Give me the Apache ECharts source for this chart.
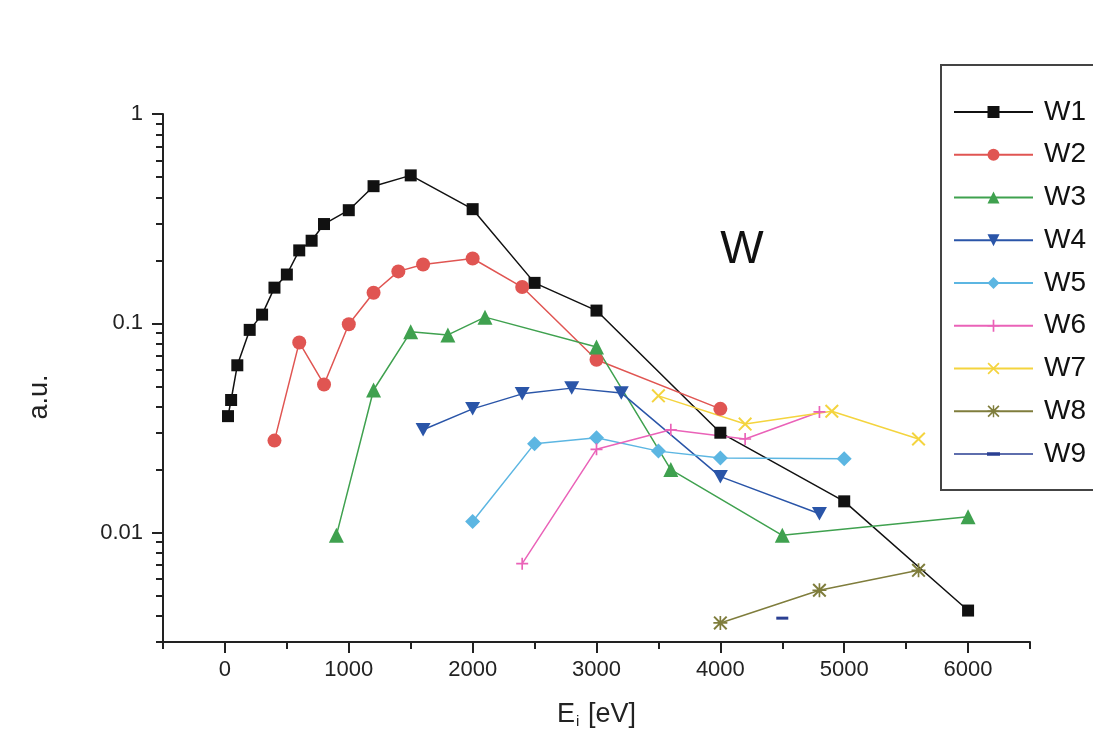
<!DOCTYPE html>
<html>
<head>
<meta charset="utf-8">
<script src="https://cdn.jsdelivr.net/npm/echarts@6/dist/echarts.min.js"></script>
<style>
  html, body { margin: 0; padding: 0; background: #fff; }
  #chart { width: 1093px; height: 740px; }
</style>
</head>
<body>
<div id="chart"></div>
<script>
// values
const energyW1 = [25, 50, 100, 200, 300, 400, 500, 600, 700, 800, 1000, 1200, 1500, 2000, 2500, 3000, 4000, 5000, 6000];
const valueW1 = [0.036, 0.043, 0.063, 0.093, 0.11, 0.148, 0.171, 0.223, 0.248, 0.298, 0.347, 0.452, 0.509, 0.351, 0.156, 0.115, 0.030, 0.0141, 0.00424];
const energyW2 = [400, 600, 800, 1000, 1200, 1400, 1600, 2000, 2400, 3000, 4000];
const valueW2 = [0.0275, 0.081, 0.051, 0.099, 0.14, 0.177, 0.191, 0.204, 0.149, 0.067, 0.039];
const energyW3 = [900, 1200, 1500, 1800, 2100, 3000, 3600, 4500, 6000];
const valueW3 = [0.0097, 0.048, 0.091, 0.088, 0.107, 0.077, 0.020, 0.0097, 0.0119];
const energyW4 = [1600, 2000, 2400, 2800, 3200, 4000, 4800];
const valueW4 = [0.031, 0.039, 0.046, 0.049, 0.0465, 0.0185, 0.0123];
const energyW5 = [2000, 2500, 3000, 3500, 4000, 5000];
const valueW5 = [0.0113, 0.0266, 0.0284, 0.0245, 0.0227, 0.0225];
const energyW6 = [2400, 3000, 3600, 4200, 4800];
const valueW6 = [0.0071, 0.025, 0.031, 0.028, 0.0377];
const energyW7 = [3500, 4200, 4900, 5600];
const valueW7 = [0.045, 0.033, 0.038, 0.028];
const energyW8 = [4000, 4800, 5600];
const valueW8 = [0.0037, 0.0053, 0.0066];
const energyW9 = [4500];
const valueW9 = [0.0039];

const xMajorTicks = [0, 1000, 2000, 3000, 4000, 5000, 6000];
const xMinorTicks = [-500, 500, 1500, 2500, 3500, 4500, 5500, 6500];
const yMajorTicks = [0.01, 0.1, 1];
const yMinorTicks = [0.003, 0.004, 0.005, 0.006, 0.007, 0.008, 0.009,
  0.02, 0.03, 0.04, 0.05, 0.06, 0.07, 0.08, 0.09,
  0.2, 0.3, 0.4, 0.5, 0.6, 0.7, 0.8, 0.9];

const FONT = "'Liberation Sans', Arial, sans-serif";

const PLUS = "path://M4.3,0H5.7V4.3H10V5.7H5.7V10H4.3V5.7H0V4.3H4.3Z";
const CROSS = "path://M0,1L1,0L5,4L9,0L10,1L6,5L10,9L9,10L5,6L1,10L0,9L4,5Z";
const STAR = "path://M0,1L1,0L5,4L9,0L10,1L6,5L10,9L9,10L5,6L1,10L0,9L4,5Z M4.4,0H5.6V10H4.4Z M0,4.4H10V5.6H0Z";
const DOWN = "path://M0,0L10,0L5,9Z";
const DASH = "path://M0,0H12V3H0Z";
// legend icon for W9: thin line with a short dash in the middle (79 x 15 box)
const DASH_LEGEND = "path://M0,6.8H79V8.2H0Z M33,5.8H46V9.2H33Z M0,0L0.01,0L0,0.01Z M79,15L78.99,15L79,14.99Z";

function pairs(xs, ys){
  return xs.map((x, i) => [x, ys[i]]);
}

function makeSeries(name, xs, ys, color, symbol, size){
  return {
    name,
    type: "line",
    data: pairs(xs, ys),
    symbol,
    symbolSize: size,
    symbolKeepAspect: true,
    showAllSymbol: true,
    lineStyle: { color, width: 1.5 },
    itemStyle: { color, borderWidth: 0 },
    emphasis: { disabled: true },
    z: 3
  };
}

const chart = echarts.init(document.getElementById("chart"), null, { renderer: "canvas" });

chart.setOption({
  animation: false,
  backgroundColor: "#ffffff",
  textStyle: { fontFamily: FONT },
  grid: { left: 163, right: 63, top: 114, bottom: 98 },
  legend: {
    orient: "vertical",
    left: 941,
    top: 65,
    padding: [33, 40, 22, 12],
    itemWidth: 79,
    itemHeight: 15,
    itemGap: 14.75,
    borderColor: "#444",
    borderWidth: 2,
    textStyle: { fontSize: 28, color: "#111", fontFamily: FONT, padding: [0, 0, 0, 6] },
    data: ["W1", "W2", "W3", "W4", "W5", "W6", "W7", "W8", { name: "W9", icon: DASH_LEGEND }]
  },
  xAxis: [
    {
      type: "value",
      position: "bottom",
      min: -500,
      max: 6500,
      interval: 500,
      name: "{e|E}{s|i}{e| [eV]}",
      nameLocation: "middle",
      nameGap: 58,
      nameTextStyle: {
        rich: {
          e: { fontSize: 27, color: "#222", fontFamily: FONT },
          s: { fontSize: 15, color: "#222", fontFamily: FONT, padding: [14, 1, 0, 1] }
        }
      },
      axisLine: { onZero: false, lineStyle: { color: "#222", width: 2 } },
      axisTick: { customValues: xMajorTicks, length: 11, lineStyle: { color: "#222", width: 2 } },
      axisLabel: {
        customValues: xMajorTicks,
        fontSize: 22,
        color: "#222",
        margin: 17,
        fontFamily: FONT,
        formatter: (v) => String(v)
      },
      splitLine: { show: false }
    },
    {
      type: "value",
      position: "bottom",
      min: -500,
      max: 6500,
      interval: 500,
      axisLine: { show: false, onZero: false },
      axisTick: { customValues: xMinorTicks, length: 7, lineStyle: { color: "#222", width: 2 } },
      axisLabel: { show: false },
      splitLine: { show: false }
    }
  ],
  yAxis: [
    {
      type: "log",
      position: "left",
      logBase: 10,
      min: 0.003,
      max: 1,
      axisLine: { show: true, onZero: false, lineStyle: { color: "#222", width: 2 } },
      axisTick: { show: true, customValues: yMajorTicks, length: 11, lineStyle: { color: "#222", width: 2 } },
      axisLabel: {
        customValues: yMajorTicks,
        fontSize: 22,
        color: "#222",
        margin: 20,
        fontFamily: FONT,
        formatter: (v) => String(v)
      },
      splitLine: { show: false }
    },
    {
      type: "log",
      position: "left",
      logBase: 10,
      min: 0.003,
      max: 1,
      axisLine: { show: false, onZero: false },
      axisTick: { show: true, customValues: yMinorTicks, length: 7, lineStyle: { color: "#222", width: 2 } },
      axisLabel: { show: false },
      splitLine: { show: false }
    }
  ],
  graphic: [
    {
      type: "text",
      x: 742,
      y: 250,
      style: { text: "W", font: "46px " + FONT, fill: "#111", align: "center", verticalAlign: "middle" }
    },
    {
      type: "text",
      x: 40,
      y: 397,
      rotation: Math.PI / 2,
      style: { text: "a.u.", font: "27px " + FONT, fill: "#222", align: "center", verticalAlign: "middle" }
    }
  ],
  series: [
    makeSeries("W1", energyW1, valueW1, "#111111", "rect", 12),
    makeSeries("W2", energyW2, valueW2, "#e05552", "circle", 14),
    makeSeries("W3", energyW3, valueW3, "#3fa14f", "triangle", 15),
    makeSeries("W4", energyW4, valueW4, "#2a55a8", DOWN, 15),
    makeSeries("W5", energyW5, valueW5, "#5cb6e2", "diamond", 15),
    makeSeries("W6", energyW6, valueW6, "#ea62b8", PLUS, 12),
    makeSeries("W7", energyW7, valueW7, "#f4d43e", CROSS, 14),
    makeSeries("W8", energyW8, valueW8, "#7f7d3c", STAR, 14),
    makeSeries("W9", energyW9, valueW9, "#2a3f92", DASH, 12)
  ]
});
</script>
</body>
</html>
